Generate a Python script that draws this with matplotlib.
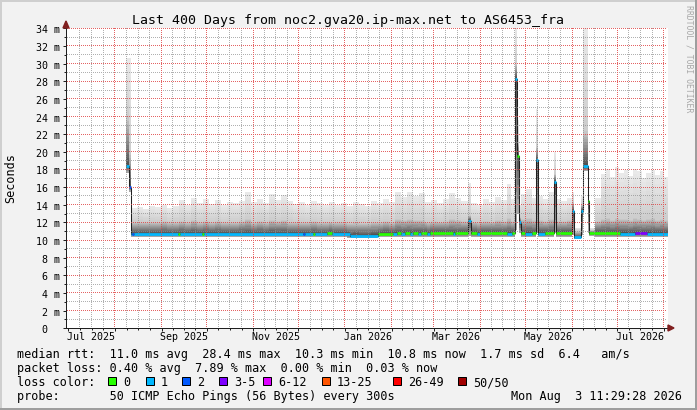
import numpy as np
import matplotlib
matplotlib.use("Agg")
import matplotlib.pyplot as plt
import matplotlib.dates as mdates
from matplotlib.patches import Rectangle, Polygon
from matplotlib.transforms import ScaledTranslation
from datetime import datetime, timedelta

plt.rcParams['font.family'] = 'DejaVu Sans Mono'

W, H = 697, 410
START = datetime(2025, 6, 29, 11, 29, 28)
END = datetime(2026, 8, 3, 11, 29, 28)
SPAN = 400.0

# median rtt (ms); one entry per run, day = days after START, loss = index into loss_labels
seg_day = [39.7, 41.9, 43.2, 44.2, 45.2, 74.5, 75.8, 90.4, 91.8, 157.6,
           158.9, 164.2, 165.6, 173.5, 176.9, 188.8, 207.4, 217.4, 220.0, 223.0,
           225.5, 228.5, 230.5, 234.0, 236.0, 240.0, 242.0, 257.3, 258.7, 267.5,
           269.1, 273.3, 275.3, 293.3, 296.7, 298.5, 300.1, 301.4, 302.5, 305.2,
           309.8, 312.5, 313.6, 318.5, 324.7, 325.8, 336.6, 337.8, 342.8, 343.6,
           347.1, 347.9, 368.4, 378.3, 386.3]
seg_median = [18.4, 16.0, 10.70, 10.70, 10.70, 10.72, 10.70, 10.72, 10.70, 10.70,
              10.70, 10.72, 10.70, 10.75, 10.65, 10.50, 10.72, 10.72, 10.75, 10.72,
              10.75, 10.72, 10.75, 10.72, 10.75, 10.72, 10.75, 10.72, 10.75, 12.2,
              10.75, 10.72, 10.75, 10.72, 10.75, 28.3, 19.5, 12.0, 10.75, 10.72,
              10.75, 19.1, 10.72, 10.75, 16.6, 10.75, 13.3, 10.3, 13.3, 18.4,
              14.4, 10.75, 10.72, 10.75, 10.72]
seg_loss = [1, 2, 1, 2, 1, 0, 1, 0, 1, 2,
            1, 0, 1, 0, 1, 1, 0, 1, 0, 1,
            0, 1, 0, 1, 0, 1, 0, 1, 0, 1,
            0, 1, 0, 1, 0, 1, 0, 1, 0, 1,
            0, 1, 1, 0, 1, 0, 1, 1, 1, 1,
            0, 0, 1, 3, 1]

# smoke (spread of the 50 pings, ms): lowest, dense part, highest
smoke_day = [39.7, 41.9, 43.2, 47, 51, 55, 59, 63, 67, 71,
             75, 79, 83, 87, 91, 95, 99, 103, 107, 111,
             115, 119, 123, 127, 131, 135, 139, 143, 147, 151,
             155, 159, 163, 167, 171, 175, 179, 183, 187, 191,
             195, 199, 203, 207, 211, 215, 219, 223, 227, 231,
             235, 239, 243, 247, 251, 255, 259, 263, 267.5, 269.1,
             273, 277, 281, 285, 289, 293, 296, 298.5, 300.1, 301.4,
             302.5, 306, 310, 312.5, 313.6, 317, 321, 324.7, 325.8, 329,
             333, 336.6, 337.8, 342.8, 343.6, 347.1, 347.9, 351.7, 355.7, 359,
             362, 365, 368, 371, 374, 377, 380, 383, 386, 389,
             392, 395, 398]
smoke_low = [17.6, 15.5, 10.4, 10.4, 10.4, 10.4, 10.4, 10.4, 10.4, 10.4,
             10.4, 10.4, 10.4, 10.4, 10.4, 10.4, 10.4, 10.4, 10.4, 10.4,
             10.4, 10.4, 10.4, 10.4, 10.4, 10.4, 10.4, 10.4, 10.4, 10.4,
             10.4, 10.4, 10.4, 10.4, 10.4, 10.4, 10.4, 10.4, 10.25, 10.25,
             10.25, 10.25, 10.25, 10.4, 10.4, 10.4, 10.4, 10.4, 10.4, 10.4,
             10.4, 10.4, 10.4, 10.4, 10.4, 10.4, 10.4, 10.4, 10.5, 10.4,
             10.4, 10.4, 10.4, 10.4, 10.4, 10.4, 10.4, 11.1, 13.0, 10.8,
             10.4, 10.4, 10.4, 10.8, 10.4, 10.4, 10.4, 10.8, 10.4, 10.4,
             10.4, 10.6, 10.1, 10.6, 17.8, 10.8, 10.5, 10.4, 10.4, 10.4,
             10.4, 10.4, 10.4, 10.4, 10.4, 10.4, 10.4, 10.4, 10.4, 10.4,
             10.4, 10.4, 10.4]
smoke_mid = [24.0, 20.0, 12.1, 12.1, 12.0, 12.1, 12.1, 12.2, 12.0, 12.1,
             12.2, 12.1, 12.3, 12.1, 12.2, 12.1, 12.2, 12.0, 12.1, 12.1,
             12.2, 12.4, 12.1, 12.2, 12.1, 12.3, 12.2, 12.3, 12.1, 12.0,
             12.1, 12.0, 12.2, 12.1, 12.0, 12.1, 12.0, 12.1, 11.9, 12.0,
             11.9, 11.9, 12.1, 12.1, 12.2, 12.1, 12.4, 12.3, 12.4, 12.3,
             12.3, 12.1, 12.2, 12.1, 12.2, 12.4, 12.3, 12.2, 12.8, 12.1,
             12.1, 12.2, 12.1, 12.3, 12.2, 12.5, 12.2, 30.0, 21.0, 12.6,
             12.4, 12.5, 12.3, 20.5, 12.3, 12.2, 12.4, 17.5, 12.2, 12.2,
             12.3, 14.3, 11.0, 14.0, 22.4, 15.0, 11.1, 12.2, 12.4, 12.5,
             12.3, 12.5, 12.4, 12.4, 12.3, 12.5, 12.4, 12.3, 12.4, 12.5,
             12.3, 12.4, 12.3]
smoke_top = [30.6, 30.6, 13.6, 13.8, 13.5, 13.9, 13.7, 14.0, 13.6, 13.9,
             14.5, 14.0, 14.8, 14.2, 14.6, 14.1, 14.5, 14.0, 14.3, 14.2,
             14.4, 15.4, 14.3, 14.6, 14.2, 15.2, 14.5, 15.1, 14.4, 14.1,
             14.3, 14.0, 14.4, 14.2, 14.0, 14.3, 14.0, 14.2, 13.9, 14.3,
             14.1, 13.9, 14.4, 14.2, 14.6, 14.3, 15.4, 14.9, 15.5, 15.0,
             15.3, 14.3, 14.5, 14.2, 14.6, 15.3, 14.8, 14.4, 16.5, 14.2,
             14.0, 14.6, 14.3, 14.9, 14.5, 16.4, 14.6, 34.5, 23.6, 14.0,
             15.2, 15.8, 14.8, 24.8, 15.0, 14.6, 15.4, 20.0, 14.7, 14.4,
             14.8, 15.5, 11.4, 15.0, 34.5, 16.0, 11.4, 14.8, 17.5, 18.0,
             17.2, 18.3, 17.6, 17.9, 17.3, 18.1, 17.8, 17.0, 17.6, 17.9,
             17.4, 17.8, 17.2]

loss_labels = ["0", "1", "2", "3-5", "6-12", "13-25", "26-49", "50/50"]
loss_colors = ["#26ff00", "#00b8ff", "#0059ff", "#7e00ff",
               "#dd00ff", "#ff5500", "#ff0000", "#a10000"]

y_ticks = list(range(0, 35, 2))
y_labels = ["0"] + ["%d m" % v for v in y_ticks[1:]]
x_label_months = [datetime(2025, 7, 1), datetime(2025, 9, 1), datetime(2025, 11, 1),
                  datetime(2026, 1, 1), datetime(2026, 3, 1), datetime(2026, 5, 1),
                  datetime(2026, 7, 1)]
x_labels = ["Jul 2025", "Sep 2025", "Nov 2025", "Jan 2026", "Mar 2026", "May 2026", "Jul 2026"]

title = "Last 400 Days from noc2.gva20.ip-max.net to AS6453_fra"
legend_lines = [
    "median rtt:  11.0 ms avg  28.4 ms max  10.3 ms min  10.8 ms now  1.7 ms sd  6.4   am/s",
    "packet loss: 0.40 % avg  7.89 % max  0.00 % min  0.03 % now",
    "loss color:",
    "probe:       50 ICMP Echo Pings (56 Bytes) every 300s",
]
stamp = "Mon Aug  3 11:29:28 2026"


def fx(px):
    return px / W


def fy(py):
    return 1 - py / H


# a hair over 4.10 in so the canvas really is 410 rows
fig = plt.figure(figsize=(W / 100, H / 100 + 0.0005), dpi=100, facecolor="#f2f2f2")
ax = fig.add_axes([fx(66), fy(328.3), 601.5 / W, 300 / H])
ax.set_facecolor("white")
t0 = mdates.date2num(START)
t1 = mdates.date2num(END)
ax.set_xlim(t0, t1)
ax.set_ylim(0, 34)

# common step grid for smoke and median
edges = np.append(np.union1d(seg_day, smoke_day), SPAN)
left = edges[:-1]


def at(days, vals):
    idx = np.searchsorted(days, left, side="right") - 1
    v = np.asarray(vals, float)[idx]
    return np.append(v, v[-1])


med = at(seg_day, seg_median)
lo = at(smoke_day, smoke_low)
mid = at(smoke_day, smoke_mid)
top = at(smoke_day, smoke_top)
xs = t0 + edges


def shade(y0, y1, g0, g1, n):
    for k in range(n):
        ya = y0 + (y1 - y0) * k / n
        yb = y0 + (y1 - y0) * (k + 1) / n
        g = g0 + (g1 - g0) * (k + 0.5) / n
        ax.fill_between(xs, ya, yb, step="post", color=(g, g, g),
                        lw=0, antialiased=False, zorder=1)


shade(lo, med, 0.70, 0.30, 4)
shade(med, mid, 0.30, 0.80, 12)
shade(mid, top, 0.80, 0.92, 10)

# median line, coloured by packet loss
ax.step(xs, med, where="post", color="#202020", lw=0.75, zorder=3)
seg_end = seg_day[1:] + [SPAN]
ax.hlines(seg_median, t0 + np.array(seg_day), t0 + np.array(seg_end),
          colors=[loss_colors[i] for i in seg_loss], lw=1.95, zorder=4,
          capstyle="butt")

# ticks
months = [datetime(2025 + (6 + i) // 12, (6 + i) % 12 + 1, 1) for i in range(14)]
quarters = []
for a, b in zip(months[:-1], months[1:]):
    for k in (1, 2, 3):
        quarters.append(a + (b - a) * k / 4)
ax.set_xticks(mdates.date2num(months))
ax.set_xticks(mdates.date2num(quarters), minor=True)
ax.set_yticks(y_ticks)
ax.set_yticks(range(1, 34, 2), minor=True)
ax.tick_params(labelbottom=False, labelleft=False)
ax.tick_params(which="major", length=2, width=0.72, color="#1f1f1f")
ax.tick_params(which="minor", length=1.4, width=0.72, color="#1f1f1f")
for s in ("top", "right"):
    ax.spines[s].set_visible(False)
for s in ("left", "bottom"):
    ax.spines[s].set_color("#1f1f1f")
    ax.spines[s].set_linewidth(0.72)

# dotted grid (one pixel on, one off) as an overlay, placed through the data transform
grid = np.zeros((H, W, 4))
px0, py0 = ax.transData.transform((t0, 0))
px1, py1 = ax.transData.transform((t1, 34))
c0, c1 = int(np.floor(px0)) + 1, int(np.floor(px1))
r0, r1 = int(np.floor(H - py1)), int(np.floor(H - py0))


def dotted(xvals, yvals, color):
    for xv in xvals:
        c = int(np.floor(ax.transData.transform((xv, 0))[0]))
        grid[r0:r1:2, c] = color
    for yv in yvals:
        r = int(np.floor(H - ax.transData.transform((t0, yv))[1]))
        grid[r, c0:c1:2] = color


dotted(mdates.date2num(quarters), range(1, 34, 2), (0.56, 0.56, 0.56, 0.7))
dotted(mdates.date2num(months[1:]), y_ticks[1:], (0.88, 0.28, 0.28, 0.85))
fig.figimage(grid, 0, 0, origin="upper", zorder=1)

# axis labels
for v, lab in zip(y_ticks, y_labels):
    dx = -19 if lab == "0" else -6
    ax.text(0, v, lab, fontsize=7.2, ha="right", va="center_baseline",
            transform=ax.get_yaxis_transform() + ScaledTranslation(dx / 100, -1 / 100, fig.dpi_scale_trans))
for m, lab in zip(x_label_months, x_labels):
    ax.text(mdates.date2num(m + timedelta(days=15)), 0, lab, fontsize=7.2,
            ha="center", va="baseline",
            transform=ax.get_xaxis_transform() + ScaledTranslation(0, -11.7 / 100, fig.dpi_scale_trans))

# arrows
fig.add_artist(Polygon([(fx(63), fy(28)), (fx(69), fy(28)), (fx(66), fy(21))],
                       closed=True, transform=fig.transFigure, color="#801f1f", zorder=5))
fig.add_artist(Polygon([(fx(668), fy(325)), (fx(668), fy(331)), (fx(674), fy(328))],
                       closed=True, transform=fig.transFigure, color="#801f1f", zorder=5))

# frame shading
fig.add_artist(Rectangle((0, fy(2)), 1, 2 / H, transform=fig.transFigure, color="#cfcfcf", lw=0))
fig.add_artist(Rectangle((0, 0), 2 / W, 1, transform=fig.transFigure, color="#cfcfcf", lw=0))
fig.add_artist(Rectangle((fx(W - 2), 0), 2 / W, 1, transform=fig.transFigure, color="#9e9e9e", lw=0))
fig.add_artist(Rectangle((0, 0), 1, 2 / H, transform=fig.transFigure, color="#9e9e9e", lw=0))

# texts
fig.text(fx(348.5), fy(24), title, fontsize=9.55, ha="center", va="baseline")
fig.text(fx(11), fy(178), "Seconds", fontsize=8.5, rotation=90, ha="center", va="center")
fig.text(fx(688.5), fy(59), "RRDTOOL / TOBI OETIKER", fontsize=5.9, rotation=270,
         ha="center", va="center", color="#a8a8a8")
for line, base in zip(legend_lines, [357.5, 371.5, 386, 400]):
    fig.text(fx(17), fy(base), line, fontsize=8.5, ha="left", va="baseline")
fig.text(fx(682), fy(400), stamp, fontsize=8.5, ha="right", va="baseline")

box_x = [108.3, 145.7, 182.3, 219, 263.3, 322, 393, 458]
for bx, lab, col in zip(box_x, loss_labels, loss_colors):
    fig.add_artist(Rectangle((fx(bx), fy(385.5)), 8 / W, 8 / H, transform=fig.transFigure,
                             facecolor=col, edgecolor="black", lw=0.72))
    fig.text(fx(bx + 15), fy(386), lab, fontsize=8.5, ha="left", va="baseline")

fig.savefig("out.png", dpi=100, facecolor=fig.get_facecolor())
